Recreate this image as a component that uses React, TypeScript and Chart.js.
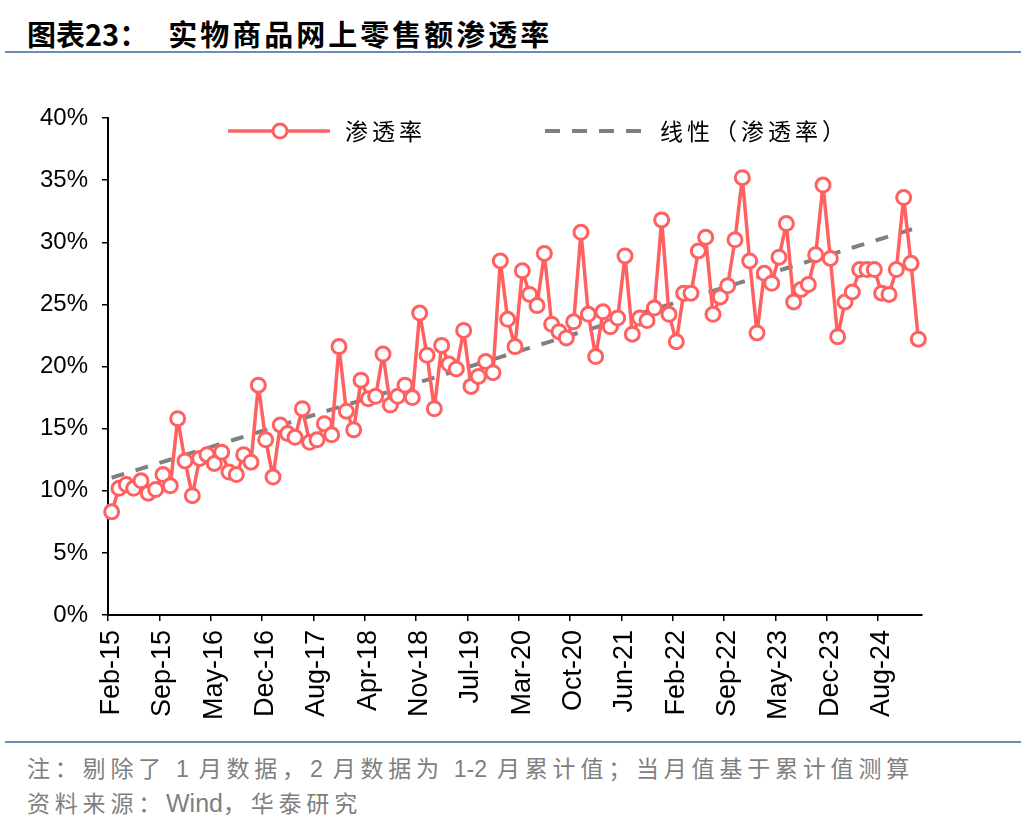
import React, { useEffect, useRef } from 'react';
import { Chart, registerables } from 'chart.js';

Chart.register(...registerables);

// ---- data ----
const MONTHS = ['Feb', 'Mar', 'Apr', 'May', 'Jun', 'Jul', 'Aug', 'Sep', 'Oct', 'Nov', 'Dec'];
const YEARS = ['15', '16', '17', '18', '19', '20', '21', '22', '23', '24'];
const LAST_LABEL = 'Feb-25';
const CATEGORIES: string[] = [...YEARS.flatMap((y) => MONTHS.map((m) => `${m}-${y}`)), LAST_LABEL];

const PENETRATION: number[] = [
  8.3, 10.2, 10.5, 10.2, 10.8, 9.8, 10.1, 11.3, 10.4, 15.8, 12.4,
  9.6, 12.6, 12.9, 12.2, 13.1, 11.5, 11.3, 12.9, 12.3, 18.5, 14.1,
  11.1, 15.3, 14.6, 14.3, 16.6, 13.9, 14.1, 15.4, 14.5, 21.6, 16.4,
  14.9, 18.9, 17.4, 17.6, 21.0, 16.9, 17.6, 18.5, 17.5, 24.3, 20.9,
  16.6, 21.7, 20.2, 19.8, 22.9, 18.4, 19.2, 20.4, 19.5, 28.5, 23.8,
  21.6, 27.7, 25.8, 24.9, 29.1, 23.4, 22.8, 22.3, 23.6, 30.8, 24.2,
  20.8, 24.4, 23.2, 23.9, 28.9, 22.6, 23.9, 23.7, 24.7, 31.8, 24.2,
  22.0, 25.9, 25.9, 29.3, 30.4, 24.2, 25.6, 26.5, 30.2, 35.2, 28.5,
  22.7, 27.5, 26.7, 28.8, 31.5, 25.2, 26.2, 26.6, 29.0, 34.6, 28.7,
  22.4, 25.2, 26.0, 27.8, 27.8, 27.8, 25.9, 25.8, 27.8, 33.6, 28.3,
  22.2,
];

const Y_MIN = 0;
const Y_MAX = 40;
const Y_STEP = 5;
const LABEL_EVERY = 7;

const SERIES_NAME = '渗透率';
const TREND_NAME = '线性（渗透率）';

// least-squares linear trendline of the series (as the Excel "线性" trendline)
function linearTrend(values: number[]): number[] {
  const n = values.length;
  let sx = 0, sy = 0, sxx = 0, sxy = 0;
  values.forEach((v, i) => { sx += i; sy += v; sxx += i * i; sxy += i * v; });
  const slope = (n * sxy - sx * sy) / (n * sxx - sx * sx);
  const intercept = (sy - slope * sx) / n;
  return values.map((_, i) => intercept + slope * i);
}

const RED = '#FF6060';
const GRAY = '#808080';
const CANVAS_TOP = 60;
const CANVAS_W = 1036;
const CANVAS_H = 680;

const legendPlugin = {
  id: 'customLegend',
  afterDraw(chart: any) {
    const ctx = chart.ctx as CanvasRenderingContext2D;
    const y = 131 - CANVAS_TOP;
    ctx.save();
    // item 1: line with circle marker
    ctx.strokeStyle = RED;
    ctx.lineWidth = 3.5;
    ctx.beginPath();
    ctx.moveTo(228, y);
    ctx.lineTo(330, y);
    ctx.stroke();
    ctx.beginPath();
    ctx.arc(280, y, 7, 0, Math.PI * 2);
    ctx.fillStyle = '#fff';
    ctx.fill();
    ctx.lineWidth = 3;
    ctx.stroke();
    ctx.fillStyle = '#000';
    ctx.font = '23px "Noto Sans CJK SC"';
    ctx.textBaseline = 'middle';
    ctx.textAlign = 'left';
    (ctx as any).letterSpacing = '4px';
    ctx.fillText(SERIES_NAME, 345, y);
    // item 2: dashed trend line
    ctx.strokeStyle = GRAY;
    ctx.lineWidth = 4;
    ctx.setLineDash([15, 12]);
    ctx.beginPath();
    ctx.moveTo(545, y);
    ctx.lineTo(644, y);
    ctx.stroke();
    ctx.setLineDash([]);
    ctx.fillText(TREND_NAME, 660, y);
    ctx.restore();
  },
};

function ChartCanvas() {
  const ref = useRef<HTMLCanvasElement | null>(null);
  useEffect(() => {
    if (!ref.current) return;
    const chart = new Chart(ref.current, {
      type: 'line',
      data: {
        labels: CATEGORIES,
        datasets: [
          {
            label: SERIES_NAME,
            data: PENETRATION,
            borderColor: RED,
            borderWidth: 3.5,
            borderJoinStyle: 'round',
            borderCapStyle: 'round',
            pointRadius: 7,
            pointBorderWidth: 3,
            pointBackgroundColor: '#fff',
            pointBorderColor: RED,
            tension: 0,
          },
          {
            label: TREND_NAME,
            data: linearTrend(PENETRATION),
            borderColor: GRAY,
            borderWidth: 4,
            borderDash: [13, 12],
            pointRadius: 0,
            tension: 0,
          },
        ],
      },
      options: {
        responsive: false,
        maintainAspectRatio: false,
        animation: false,
        layout: { padding: { top: 58, right: CANVAS_W - 922, left: 0, bottom: 0 } },
        plugins: { legend: { display: false }, tooltip: { enabled: false } },
        scales: {
          x: {
            type: 'category',
            offset: true,
            grid: {
              offset: true,
              drawOnChartArea: false,
              drawTicks: true,
              tickLength: 6,
              lineWidth: 1.5,
              color: (c: any) => (c.index % LABEL_EVERY === 0 ? '#000' : 'rgba(0,0,0,0)'),
            },
            border: { color: '#000', width: 2 },
            ticks: {
              autoSkip: false,
              maxRotation: 90,
              minRotation: 90,
              padding: 9,
              color: '#000',
              font: { family: '"Liberation Sans", Arial', size: 27 },
              callback: (_v: any, i: number) => (i % LABEL_EVERY === 0 ? CATEGORIES[i] : ''),
            },
            afterFit: (s: any) => { s.height = CANVAS_H - (615 - CANVAS_TOP); },
          },
          y: {
            min: Y_MIN,
            max: Y_MAX,
            grid: { drawOnChartArea: false, drawTicks: true, tickLength: 6, color: '#000', lineWidth: 1.5 },
            border: { color: '#000', width: 2 },
            ticks: {
              stepSize: Y_STEP,
              padding: 14,
              color: '#000',
              font: { family: '"Liberation Sans", Arial', size: 24 },
              callback: (v: any) => `${v}%`,
            },
            afterFit: (s: any) => { s.width = 108; },
          },
        },
      },
      plugins: [legendPlugin],
    });
    return () => chart.destroy();
  }, []);
  return <canvas ref={ref} width={CANVAS_W} height={CANVAS_H} style={{ position: 'absolute', left: 0, top: CANVAS_TOP, width: CANVAS_W, height: CANVAS_H }} />;
}

export default function App() {
  useEffect(() => {
    document.body.style.margin = '0';
  }, []);
  const ruleColor = '#6B8BB8';
  const latin = { letterSpacing: 0, fontFamily: '"Liberation Sans", Arial, sans-serif' };
  return (
    <div style={{ position: 'relative', width: 1036, height: 832, background: '#fff', overflow: 'hidden', fontFamily: '"Noto Sans CJK SC", sans-serif' }}>
      <div style={{ position: 'absolute', left: 27, top: 18, fontSize: 29, lineHeight: '30px', fontWeight: 700, color: '#000', whiteSpace: 'nowrap' }}>
        <span>图表23：</span>
        <span style={{ marginLeft: 20, letterSpacing: 3 }}>实物商品网上零售额渗透率</span>
      </div>
      <div style={{ position: 'absolute', left: 5, top: 51, width: 1016, height: 2, background: ruleColor }} />
      <ChartCanvas />
      <div style={{ position: 'absolute', left: 5, top: 741, width: 1016, height: 2, background: ruleColor }} />
      <div style={{ position: 'absolute', left: 27, top: 752, fontSize: 23, lineHeight: '30px', color: '#7F7F7F', letterSpacing: 4.8, whiteSpace: 'nowrap' }}>
        注：剔除了 <span style={latin}>1</span> 月数据，<span style={latin}>2</span> 月数据为 <span style={latin}>1-2</span> 月累计值；当月值基于累计值测算
      </div>
      <div style={{ position: 'absolute', left: 27, top: 787, fontSize: 23, lineHeight: '30px', color: '#7F7F7F', letterSpacing: 4.8, whiteSpace: 'nowrap' }}>
        资料来源：<span style={{ ...latin, fontSize: 25 }}>Wind</span>，华泰研究
      </div>
    </div>
  );
}
